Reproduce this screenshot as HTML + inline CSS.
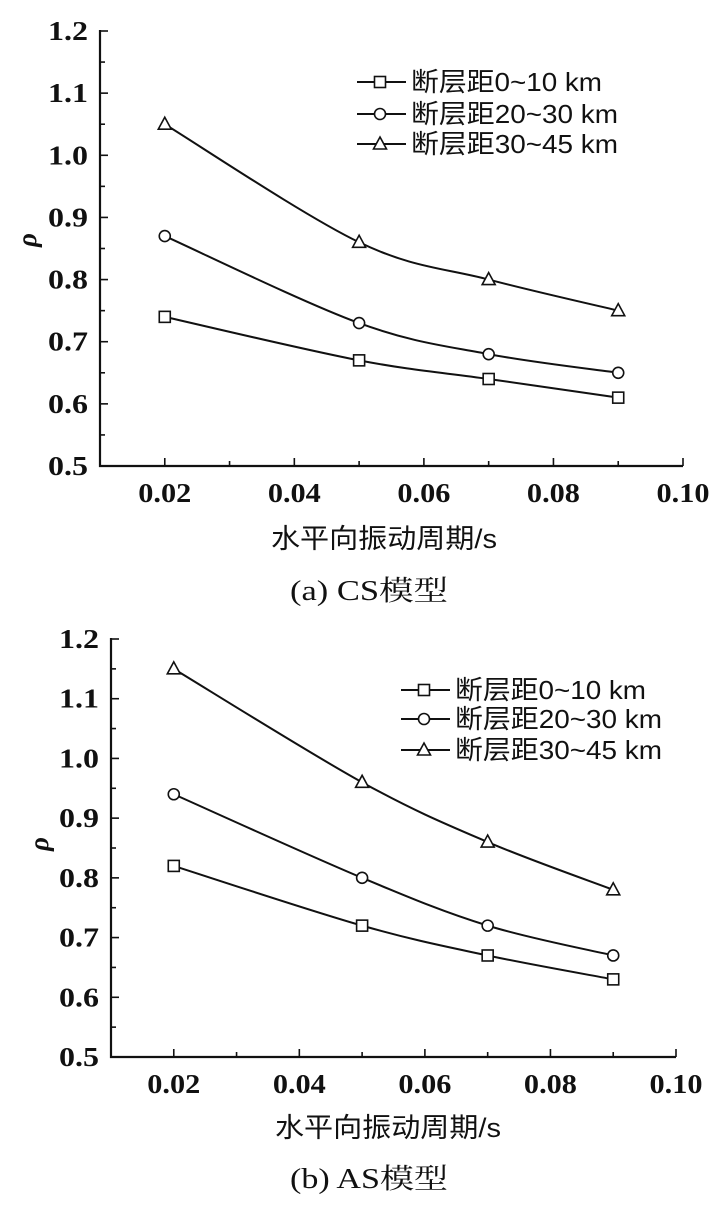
<!DOCTYPE html>
<html><head><meta charset="utf-8"><style>
html,body{margin:0;padding:0;background:#fff;}
svg{display:block;}
.tk{font-family:"Liberation Serif",serif;font-weight:bold;font-size:27px;fill:#111;}
.lg{font-family:"Liberation Sans","Noto Sans CJK SC",sans-serif;font-size:26px;fill:#111;}
.xl{font-family:"Liberation Sans","Noto Sans CJK SC",sans-serif;font-size:27px;fill:#111;}
.cap{font-family:"Liberation Serif","Noto Serif CJK SC",serif;font-size:28px;fill:#111;}
</style></head><body>
<svg id="chart" width="720" height="1210" viewBox="0 0 720 1210" xmlns="http://www.w3.org/2000/svg"></svg>
<script>
const periods=[0.02,0.05,0.07,0.09];
const xTicks=["0.02","0.04","0.06","0.08","0.10"];
const yTicks=["0.5","0.6","0.7","0.8","0.9","1.0","1.1","1.2"];
const seriesNames=["断层距0~10 km","断层距20~30 km","断层距30~45 km"];
const csNear=[0.74,0.67,0.64,0.61];
const csMid=[0.87,0.73,0.68,0.65];
const csFar=[1.05,0.86,0.80,0.75];
const asNear=[0.82,0.72,0.67,0.63];
const asMid=[0.94,0.80,0.72,0.67];
const asFar=[1.15,0.96,0.86,0.78];

const NS="http://www.w3.org/2000/svg";
const svg=document.getElementById('chart');
function mk(tag,attrs,parent){const e=document.createElementNS(NS,tag);for(const k in attrs)e.setAttribute(k,attrs[k]);(parent||svg).appendChild(e);return e;}

function drawPanel(cfg){
  const g=mk('g',{});
  
  
  const X=v=>cfg.x0+(v-0.01)/(0.10-0.01)*(cfg.x1-cfg.x0);
  const Y=v=>cfg.y0-(v-0.5)/(1.2-0.5)*(cfg.y0-cfg.y1);
  const ax=mk('path',{d:`M${cfg.x0},${cfg.y1-1}V${cfg.y0}H${cfg.x1}`,fill:'none',stroke:'#111','stroke-width':2.2},g);
  
  
  for(let i=0;i<=14;i++){
    const v=0.5+i*0.05,y=Y(v),len=i%2?5:8;
    mk('line',{x1:cfg.x0,y1:y,x2:cfg.x0+len,y2:y,stroke:'#111','stroke-width':1.6},g);
  }
  yTicks.forEach(t=>{const e=mk('text',{x:cfg.x0-12,y:Y(parseFloat(t))+9,'text-anchor':'end',class:'tk',textLength:40,lengthAdjust:'spacingAndGlyphs'},g);e.textContent=t;
    });
  for(let i=0;i<=9;i++){
    const v=0.01+i*0.01,x=X(v),len=i%2?8:5;
    mk('line',{x1:x,y1:cfg.y0,x2:x,y2:cfg.y0-len,stroke:'#111','stroke-width':1.6},g);
  }
  xTicks.forEach(t=>{const e=mk('text',{x:X(parseFloat(t)),y:cfg.xty,'text-anchor':'middle',class:'tk',textLength:53,lengthAdjust:'spacingAndGlyphs'},g);e.textContent=t;
    });
  const yl=mk('text',{x:0,y:0,transform:`translate(${cfg.ylx},${cfg.yly}) rotate(-90)`,'text-anchor':'middle',class:'tk','font-style':'italic'},g);
  yl.textContent='ρ';
  const xl=mk('text',{x:cfg.xlx,y:cfg.xly,'text-anchor':'middle',class:'xl',textLength:226,lengthAdjust:'spacingAndGlyphs'},g);
  xl.textContent='水平向振动周期/s';
  const cp=mk('text',{x:cfg.capx,y:cfg.capy,'text-anchor':'middle',class:'cap',textLength:158,lengthAdjust:'spacingAndGlyphs'},g);
  cp.textContent=cfg.caption;
  const markers=['sq','ci','tr'];
  const widths=[191,207,207];
  cfg.series.forEach((vals,si)=>{
    const pts=periods.map((p,i)=>[X(p),Y(vals[i])]);
    let d=`M${pts[0][0]},${pts[0][1]}`;
    for(let i=0;i<pts.length-1;i++){
      const p0=pts[Math.max(0,i-1)],p1=pts[i],p2=pts[i+1],p3=pts[Math.min(pts.length-1,i+2)];
      const c1=[p1[0]+(p2[0]-p0[0])/6,p1[1]+(p2[1]-p0[1])/6],c2=[p2[0]-(p3[0]-p1[0])/6,p2[1]-(p3[1]-p1[1])/6];
      d+=`C${c1[0]},${c1[1]} ${c2[0]},${c2[1]} ${p2[0]},${p2[1]}`;
    }
    const ln=mk('path',{d,fill:'none',stroke:'#111','stroke-width':2},g);
    
    pts.forEach(p=>{const m=marker(markers[si],p[0],p[1],g);});
    const ly=cfg.legY[si];
    const lgl=mk('line',{x1:cfg.legX-23,y1:ly,x2:cfg.legX+26,y2:ly,stroke:'#111','stroke-width':2},g);
    
    const lm=marker(markers[si],cfg.legX,ly,g);
    const lt=mk('text',{x:cfg.legX+31,y:ly+9,class:'lg',textLength:widths[si],lengthAdjust:'spacingAndGlyphs'},g);lt.textContent=seriesNames[si];
    
  });
}
function marker(t,x,y,g){
  if(t==='sq')return mk('rect',{x:x-5.5,y:y-5.5,width:11,height:11,fill:'#fff',stroke:'#111','stroke-width':1.6},g);
  if(t==='ci')return mk('circle',{cx:x,cy:y,r:5.5,fill:'#fff',stroke:'#111','stroke-width':1.6},g);
  return mk('path',{d:`M${x},${y-7}L${x+6.5},${y+5}H${x-6.5}Z`,fill:'#fff',stroke:'#111','stroke-width':1.6},g);
}
drawPanel({name:'panel-cs',x0:100,x1:683,y0:466,y1:31,xty:502,ylx:36,yly:240,xlx:384,xly:548,capx:369,capy:600,caption:'(a) CS模型',
  series:[csNear,csMid,csFar],legX:380,legY:[82,114,144]});
drawPanel({name:'panel-as',x0:111,x1:676,y0:1057,y1:639,xty:1093,ylx:48,yly:844,xlx:388,xly:1137,capx:369,capy:1188,caption:'(b) AS模型',
  series:[asNear,asMid,asFar],legX:424,legY:[690,719,750]});
</script>
</body></html>
